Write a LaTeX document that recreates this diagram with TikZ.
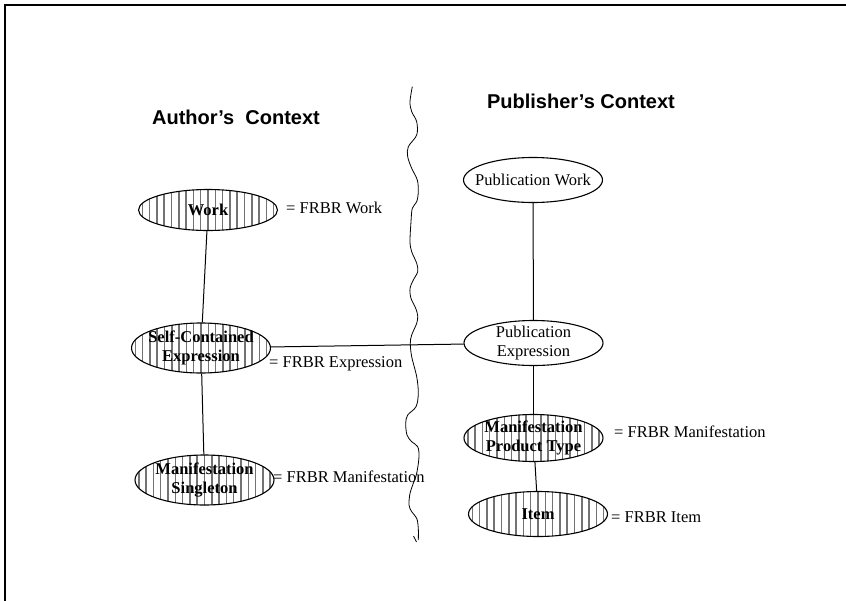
\documentclass[tikz,border=0pt]{standalone}
\usepackage{fontspec}
\setmainfont{Liberation Serif}
\newfontfamily\hdrfont{Liberation Sans}
\usetikzlibrary{shapes.geometric}
\begin{document}
\begin{tikzpicture}[x=1pt,y=-1pt,
  ell/.style={ellipse, draw, line width=1.1pt, inner sep=0pt, minimum width=139pt, fill=white},
  txt/.style={inner sep=0pt, align=center, font=\fontsize{16.5}{19}\selectfont},
  btxt/.style={txt, font=\fontsize{16.5}{19}\selectfont\bfseries},
  hatched/.style={ell, path picture={\foreach \k in {-10,...,10}{\draw[black!55, line width=1.5pt] ([xshift=\k*7.3pt]path picture bounding box.north) -- ([xshift=\k*7.3pt]path picture bounding box.south);}}},
  lbl/.style={anchor=west, inner sep=0pt, font=\fontsize{16.5}{19}\selectfont},
  hdr/.style={inner sep=0pt, font=\hdrfont\bfseries\fontsize{20}{24}\selectfont},
  conn/.style={line width=1pt}]
\useasboundingbox (0,0) rectangle (846,600);
\draw[line width=2.4pt] (850,5) -- (5,5) -- (5,604);

% headers
\node[hdr] (ahdr) at (236,117) {Author’s\hspace{0.28em} Context};
\node[hdr] (phdr) at (581,101) {Publisher’s Context};

% wavy separator
\draw[line width=0.8pt] plot[smooth, tension=0.55] coordinates {
 (412.3,86.7) (410,101.7) (411.7,111.7) (416.7,121.7) (416.7,135) (408.3,146.7)
 (407.7,156.7) (411.7,168.3) (417.3,180) (418.3,191.7) (416.7,201.7) (412.3,208.3)
 (411,221.7) (410,241.7) (411.7,251.7) (416.7,263.3) (417.7,271.7) (413.3,280)
 (410,288.3) (411,298.3) (415.7,308.3) (417.7,316) (416.7,323.3) (411.7,335)
 (410.3,343.3) (411.7,356.7) (416.7,376.7) (418.3,393.3) (416,406.7) (407.7,415)
 (405.7,423.3) (407,435) (411.7,441.7) (417.7,446.7) (419,456.7) (416.7,473.3)
 (413.3,483.3) (410,493.3) (409,505) (411.7,511.7) (416.7,518.3) (418.3,528.3)
 (418.3,540)};
\draw[line width=0.8pt] (413.5,536) -- (416.5,542);

% left side
\node[hatched, minimum height=41pt, label={[btxt]center:Work}] (work) at (208,210) {};
\node[hatched, minimum height=50pt, label={[btxt]center:Self-Contained\\Expression}] (sce) at (201,348) {};
\node[hatched, minimum height=50pt, label={[btxt]center:Manifestation\\Singleton}] (ms) at (204.5,480) {};

% right side
\node[ell, minimum height=45pt, label={[txt]center:Publication Work}] (pw) at (533,180) {};
\node[ell, minimum height=45pt, label={[txt]center:Publication\\Expression}] (pe) at (533.5,343) {};
\node[hatched, minimum height=47pt, label={[btxt]center:Manifestation\\Product Type}] (mpt) at (533.5,438) {};
\node[hatched, minimum height=45pt, label={[btxt]center:Item}] (item) at (538,514) {};

% connectors
\draw[conn] (work) -- (sce);
\draw[conn] (sce) -- (ms);
\draw[conn] (sce) -- (pe);
\draw[conn] (pw) -- (pe);
\draw[conn] (pe) -- (mpt);
\draw[conn] (mpt) -- (item);

% equivalence labels
\node[lbl] (lw) at (286,208) {= FRBR Work};
\node[lbl] (le) at (269,364) {= FRBR Expression};
\node[lbl] (lm) at (273,477) {= FRBR Manifestation};
\node[lbl] (lmp) at (614,432) {= FRBR Manifestation};
\node[lbl] (li) at (611,517) {= FRBR Item};
\end{tikzpicture}
\end{document}
